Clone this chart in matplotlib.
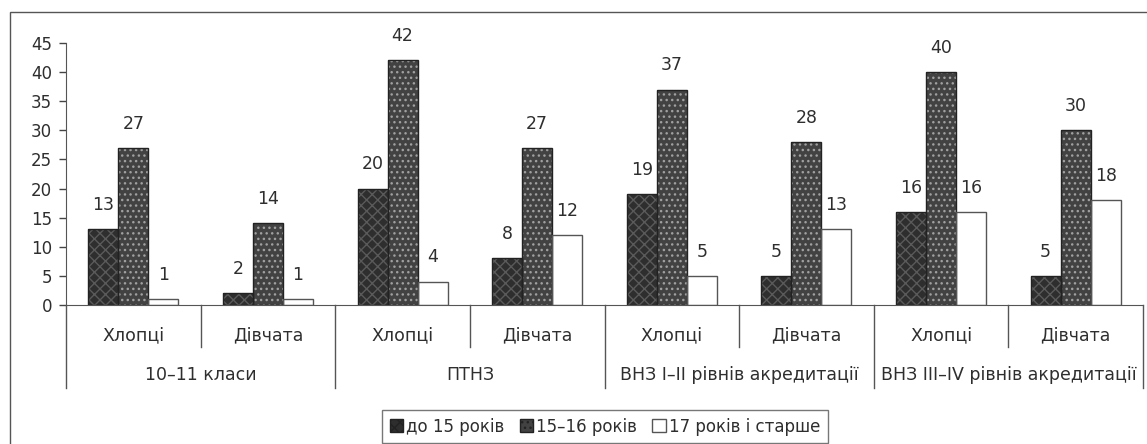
import matplotlib
matplotlib.use("Agg")
import matplotlib.pyplot as plt
from matplotlib.patches import Patch, Rectangle
import numpy as np

plt.rcParams['font.family'] = ['DejaVu Sans']

# Data
groups = ["10–11 класи", "ПТНЗ", "ВНЗ І–ІІ рівнів акредитації", "ВНЗ ІІІ–IV рівнів акредитації"]
subgroups = ["Хлопці", "Дівчата"]
series_names = ["до 15 років", "15–16 років", "17 років і старше"]
under_15 = [13, 2, 20, 8, 19, 5, 16, 5]
age_15_16 = [27, 14, 42, 27, 37, 28, 40, 30]
age_17_plus = [1, 1, 4, 12, 5, 13, 16, 18]
yticks = [0, 5, 10, 15, 20, 25, 30, 35, 40, 45]

series = [under_15, age_15_16, age_17_plus]
styles = [
    dict(face="#2e2e2e", hatch="xxx", hcolor="#5a5a5a", edge="#222222"),
    dict(face="#424242", hatch="...", hcolor="#a0a0a0", edge="#222222"),
    dict(face="#ffffff", hatch=None, hcolor=None, edge="#555555"),
]

W, H = 1147, 444
fig = plt.figure(figsize=(W / 100, H / 100), dpi=100)
ax = fig.add_axes([66 / W, 1 - 305 / H, (1143 - 66) / W, (305 - 43) / H])

n = len(under_15)
x = np.arange(n) + 0.5
bw = 0.223
text_col = "#2e2e2e"

for k, (vals, st) in enumerate(zip(series, styles)):
    pos = x + (k - 1) * bw
    ax.bar(pos, vals, width=bw, color=st["face"], linewidth=0, zorder=2)
    if st["hatch"]:
        ax.bar(pos, vals, width=bw, color="none", hatch=st["hatch"],
               edgecolor=st["hcolor"], linewidth=0, zorder=3)
    ax.bar(pos, vals, width=bw, color="none", edgecolor=st["edge"],
           linewidth=1.0, zorder=4)
    for px, v in zip(pos, vals):
        ax.annotate(str(v), (px, v), xytext=(0, 11), textcoords="offset points",
                    ha="center", va="bottom", fontsize=12.5, color=text_col,
                    zorder=1)

ax.set_xlim(0, n)
ax.set_ylim(0, 45)
ax.set_yticks(yticks)
ax.tick_params(axis="y", direction="out", length=5, width=1, colors="#444444",
               labelsize=12, labelcolor=text_col, pad=5)
ax.set_xticks([])
for s in ["top", "right"]:
    ax.spines[s].set_visible(False)
ax.spines["left"].set_color("#555555")
ax.spines["bottom"].set_color("#555555")
ax.spines["bottom"].set_zorder(5)

# Category table beneath the axis
ah = 305 - 43
short_y = -(347 - 305) / ah
long_y = -(388 - 305) / ah
sub_y = -(335 - 305) / ah
grp_y = -(375 - 305) / ah
trans = ax.get_xaxis_transform()
for i in range(n + 1):
    yb = long_y if i % 2 == 0 else short_y
    ax.plot([i, i], [0, yb], color="#555555", lw=1, transform=trans, clip_on=False)
for i in range(n):
    ax.text(i + 0.5, sub_y, subgroups[i % 2], transform=trans, ha="center",
            va="center", fontsize=12.5, color=text_col)
for g, name in enumerate(groups):
    ax.text(2 * g + 1, grp_y, name, transform=trans, ha="center", va="center",
            fontsize=12.5, color=text_col)

# Legend
handles = []
for name, st in zip(series_names, styles):
    handles.append(Patch(facecolor=st["face"], edgecolor=st["edge"],
                         hatch=st["hatch"], label=name))
leg = fig.legend(handles=handles, loc="upper center", ncol=3,
                 bbox_to_anchor=(605 / W, 1 - 410 / H), borderaxespad=0,
                 frameon=True, fancybox=False, fontsize=12, handlelength=0.8,
                 handleheight=0.8, handletextpad=0.2, columnspacing=0.9,
                 borderpad=0.45)
leg.get_frame().set_edgecolor("#555555")
leg.get_frame().set_linewidth(1)
for t in leg.get_texts():
    t.set_color(text_col)

# Outer frame
fig.patches.append(Rectangle((10 / W, -0.05), 1.2, 1 - 12 / H + 0.05,
                             transform=fig.transFigure, fill=False,
                             edgecolor="#555555", linewidth=1))

fig.savefig("out.png", dpi=100)
